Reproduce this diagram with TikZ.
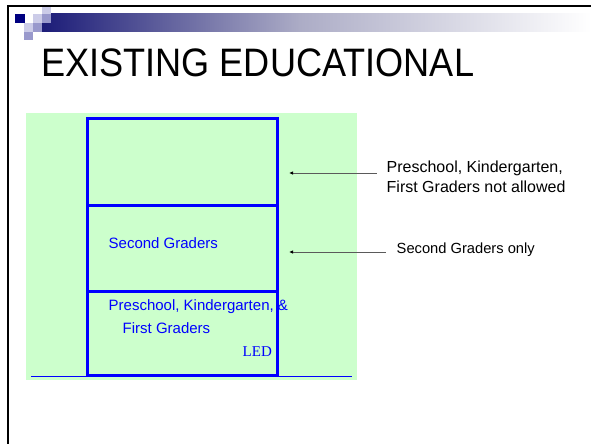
\documentclass[tikz,border=0pt]{standalone}
\usepackage{fontspec}
\setmainfont{Liberation Sans}
\newfontfamily\titlefont[FakeStretch=0.91]{Liberation Sans}
\newfontfamily\ledfont{Liberation Serif}
\usetikzlibrary{arrows.meta}
\definecolor{bgreen}{RGB}{204,255,204}
\definecolor{pblue}{RGB}{0,0,255}
\definecolor{navyA}{RGB}{0,0,128}
\definecolor{lavA}{RGB}{204,204,232}
\definecolor{lavB}{RGB}{153,153,204}
\definecolor{barL}{RGB}{28,28,120}
\definecolor{barM}{RGB}{172,172,198}
\definecolor{arrgray}{RGB}{90,90,90}
\begin{document}
\begin{tikzpicture}[x=1pt,y=-1pt,
  cell/.style={draw=pblue, line width=3pt, minimum width=190pt, anchor=north west, inner sep=0pt, outer sep=0pt},
  btext/.style={text=pblue, font=\fontsize{15}{18}\selectfont, anchor=base west, inner sep=0pt},
  rtext/.style={text=black, anchor=base west, inner sep=0pt},
  arr/.style={draw=arrgray, line width=0.8pt, -{Latex[length=4pt,width=3.5pt,color=black]}}]
\useasboundingbox (0,0) rectangle (591,444);
\fill[white] (0,0) rectangle (591,444);
% slide frame
\fill[black] (7,5) rectangle (591,7.3);
\fill[black] (6.7,5) rectangle (9,444);
% header bar
\shade[left color=barL, right color=barM] (42,14) rectangle (300,32);
\shade[left color=barM, right color=white] (299.5,14) rectangle (591,32);
% decorative squares
\fill[navyA] (15,14) rectangle (25,23);
\fill[lavA] (42,7.3) rectangle (51,14);
\fill[lavA] (33,14) rectangle (42,23);
\fill[lavB] (42,14) rectangle (51,23);
\fill[lavA] (24,23) rectangle (33,32);
\fill[lavB] (33,23) rectangle (42,32);
\fill[lavB] (24,32) rectangle (33,40);
% title
\node[anchor=base west, inner sep=0pt, font=\titlefont\fontsize{39.7}{44}\selectfont] (title) at (41,77) {EXISTING EDUCATIONAL};
% green background
\fill[bgreen] (26,113) rectangle (357,380);
% building cells
\node[cell, minimum height=86.5pt] (top) at (87.5,118.5) {};
\node[cell, minimum height=86.5pt] (mid) at (top.south west) {};
\node[cell, minimum height=83.5pt] (bot) at (mid.south west) {};
% ground line
\coordinate (g1) at (31,376);
\coordinate (g2) at (352,376);
\draw[pblue, line width=1pt] (g1) -- (g2);
% texts in building
\node[btext] (sg) at (108.5,248) {Second Graders};
\node[btext] (pk) at (108.5,310) {Preschool, Kindergarten, \&};
\node[btext] (fg) at (122.5,333) {First Graders};
\node[btext, font=\ledfont\fontsize{15}{18}\selectfont] (led) at (242.5,356.5) {LED};
% right labels
\node[rtext, font=\fontsize{16}{19}\selectfont] (lab1a) at (386.5,172) {Preschool, Kindergarten,};
\node[rtext, font=\fontsize{16}{19}\selectfont] (lab1b) at (386.5,192) {First Graders not allowed};
\node[rtext, font=\fontsize{14.7}{18}\selectfont] (lab2) at (396.5,253) {Second Graders only};
% arrows
\coordinate (t1) at (289,173);
\coordinate (t2) at (289,252);
\draw[arr] ([xshift=-10pt]lab1a.west |- t1) -- (t1);
\draw[arr] ([xshift=-11pt]lab2.west |- t2) -- (t2);
\end{tikzpicture}
\end{document}
